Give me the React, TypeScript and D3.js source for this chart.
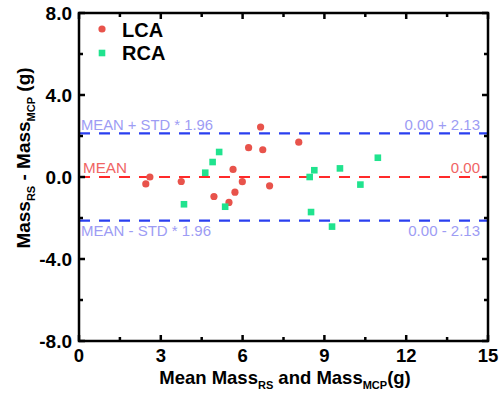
import React from "react";
import * as d3 from "d3";

const lcaX = [2.45, 2.6, 3.75, 4.95, 5.5, 5.72, 5.65, 5.99, 6.22, 6.66, 6.74, 6.99, 8.06];
const lcaY = [-0.34, 0.0, -0.22, -0.95, -1.24, -0.74, 0.37, -0.23, 1.43, 2.44, 1.33, -0.43, 1.7];
const rcaX = [3.85, 4.63, 4.9, 5.14, 5.36, 8.46, 8.63, 9.57, 10.32, 10.96, 8.51, 9.28];
const rcaY = [-1.33, 0.21, 0.73, 1.22, -1.45, 0.0, 0.33, 0.42, -0.37, 0.94, -1.71, -2.42];
const xTicks = [0, 3, 6, 9, 12, 15];
const xMinor = [1.5, 4.5, 7.5, 10.5, 13.5];
const yTicks = [-8, -4, 0, 4, 8];
const yMinor = [-6, -2, 2, 6];
const meanVal = 0.0;
const limitVal = 2.13;

export default function App() {
  const W = 502, H = 401;
  const x = d3.scaleLinear().domain([0, 15]).range([79, 488]);
  const y = d3.scaleLinear().domain([-8, 8]).range([341, 13]);
  const [x0, x1] = x.range();
  const [y0, y1] = [y(-8), y(8)];
  const font = "Liberation Sans, Arial, sans-serif";
  const blue = "#2a3ff0";
  const red = "#ff2a2a";
  const lblBlue = "#9d9cf4";
  const lblRed = "#f06464";
  const tickMaj = 6, tickMin = 4;
  return (
    <svg width={W} height={H} style={{ position: "absolute", left: 0, top: 0, background: "#fff" }} fontFamily={font}>
      {/* reference lines */}
      {[meanVal + limitVal, meanVal - limitVal].map((v, i) => (
        <line key={"b" + i} x1={x0} x2={x1} y1={y(v)} y2={y(v)} stroke={blue} strokeWidth={2.2} strokeDasharray="11,9" />
      ))}
      <line x1={x0} x2={x1} y1={y(meanVal)} y2={y(meanVal)} stroke={red} strokeWidth={2} strokeDasharray="11,9" />
      {/* labels */}
      <text x={x0 + 2} y={y(meanVal + limitVal) - 3} fill={lblBlue} fontSize={15} textLength={132} lengthAdjust="spacingAndGlyphs">MEAN + STD * 1.96</text>
      <text x={x1 - 8} y={y(meanVal + limitVal) - 3} fill={lblBlue} fontSize={15} textAnchor="end">{`${meanVal.toFixed(2)} + ${limitVal.toFixed(2)}`}</text>
      <text x={x0 + 4} y={y(meanVal) - 4} fill={lblRed} fontSize={15} textLength={44} lengthAdjust="spacingAndGlyphs">MEAN</text>
      <text x={x1 - 8} y={y(meanVal) - 4} fill={lblRed} fontSize={15} textAnchor="end">{meanVal.toFixed(2)}</text>
      <text x={x0 + 2} y={y(meanVal - limitVal) + 15} fill={lblBlue} fontSize={15} textLength={130} lengthAdjust="spacingAndGlyphs">MEAN - STD * 1.96</text>
      <text x={x1 - 8} y={y(meanVal - limitVal) + 15} fill={lblBlue} fontSize={15} textAnchor="end">{`${meanVal.toFixed(2)} - ${limitVal.toFixed(2)}`}</text>
      {/* points */}
      {lcaX.map((v, i) => (
        <circle key={"l" + i} cx={x(v)} cy={y(lcaY[i])} r={3.6} fill="#e8534b" />
      ))}
      {rcaX.map((v, i) => (
        <rect key={"r" + i} x={x(v) - 3.3} y={y(rcaY[i]) - 3.3} width={6.6} height={6.6} fill="#20e38e" />
      ))}
      {/* legend */}
      <circle cx={102} cy={29} r={3.6} fill="#e8534b" />
      <text x={122} y={37} fontSize={20} fontWeight="bold" fill="#000">LCA</text>
      <rect x={98.7} y={49.7} width={6.6} height={6.6} fill="#20e38e" />
      <text x={122} y={60} fontSize={20} fontWeight="bold" fill="#000">RCA</text>
      {/* frame */}
      <rect x={x0} y={y1} width={x1 - x0} height={y0 - y1} fill="none" stroke="#000" strokeWidth={2.5} />
      {/* ticks */}
      {xTicks.map((t) => (
        <g key={"xt" + t}>
          <line x1={x(t)} x2={x(t)} y1={y0} y2={y0 - tickMaj} stroke="#000" strokeWidth={2.5} />
          <line x1={x(t)} x2={x(t)} y1={y1} y2={y1 + tickMaj} stroke="#000" strokeWidth={2.5} />
          <text x={x(t)} y={362} textAnchor="middle" fontSize={18.5} fontWeight="bold">{t}</text>
        </g>
      ))}
      {xMinor.map((t) => (
        <g key={"xm" + t}>
          <line x1={x(t)} x2={x(t)} y1={y0} y2={y0 - tickMin} stroke="#000" strokeWidth={2.5} />
          <line x1={x(t)} x2={x(t)} y1={y1} y2={y1 + tickMin} stroke="#000" strokeWidth={2.5} />
        </g>
      ))}
      {yTicks.map((t) => (
        <g key={"yt" + t}>
          <line x1={x0} x2={x0 + tickMaj} y1={y(t)} y2={y(t)} stroke="#000" strokeWidth={2.5} />
          <line x1={x1} x2={x1 - tickMaj} y1={y(t)} y2={y(t)} stroke="#000" strokeWidth={2.5} />
          <text x={72} y={y(t) + 7} textAnchor="end" fontSize={19} fontWeight="bold">{t.toFixed(1)}</text>
        </g>
      ))}
      {yMinor.map((t) => (
        <g key={"ym" + t}>
          <line x1={x0} x2={x0 + tickMin} y1={y(t)} y2={y(t)} stroke="#000" strokeWidth={2.5} />
          <line x1={x1} x2={x1 - tickMin} y1={y(t)} y2={y(t)} stroke="#000" strokeWidth={2.5} />
        </g>
      ))}
      {/* axis titles */}
      <text x={285} y={384} textAnchor="middle" fontSize={18.5} fontWeight="bold">
        Mean Mass<tspan fontSize={11} dy={5}>RS</tspan><tspan dy={-5}> and Mass</tspan><tspan fontSize={11} dy={5}>MCP</tspan><tspan dy={-5}>(g)</tspan>
      </text>
      <text transform={`translate(30,158) rotate(-90)`} textAnchor="middle" fontSize={19} fontWeight="bold">
        Mass<tspan fontSize={11} dy={5}>RS</tspan><tspan dy={-5}> - Mass</tspan><tspan fontSize={11} dy={5}>MCP</tspan><tspan dy={-5}> (g)</tspan>
      </text>
    </svg>
  );
}
